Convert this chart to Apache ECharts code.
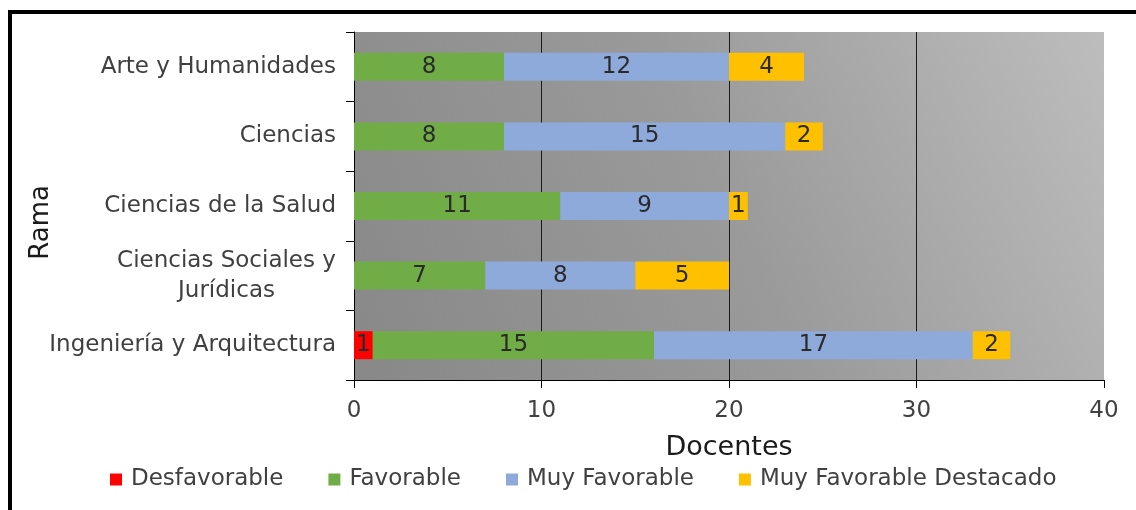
<!DOCTYPE html>
<html><head><meta charset="utf-8">
<script src="https://cdn.jsdelivr.net/npm/echarts@6/dist/echarts.min.js"></script>
<style>html,body{margin:0;padding:0;background:#fff}#c{width:1136px;height:510px}</style>
</head><body><div id="c"></div>
<script>
const categories = ['Ingeniería y Arquitectura', 'Ciencias Sociales y\nJurídicas', 'Ciencias de la Salud', 'Ciencias', 'Arte y Humanidades'];
const seriesNames = ['Desfavorable', 'Favorable', 'Muy Favorable', 'Muy Favorable Destacado'];
const desfavorable = [1, 0, 0, 0, 0];
const favorable = [15, 7, 11, 8, 8];
const muyFavorable = [17, 8, 9, 15, 12];
const muyFavorableDestacado = [2, 5, 1, 2, 4];
const xTicks = [0, 10, 20, 30, 40];
const colors = ['#ff0000', '#70ad47', '#8eaadb', '#ffc000'];
const FONT = 'DejaVu Sans';
const values = [desfavorable, favorable, muyFavorable, muyFavorableDestacado];

// measure widths so multi-line category labels can be centred as a block
const mctx = document.createElement('canvas').getContext('2d');
mctx.font = '23px "DejaVu Sans"';
function catFormatter(v) {
  if (v.indexOf('\n') < 0) return v;
  const lines = v.split('\n');
  return lines.map(s => '{c|' + s + '}').join('\n');
}
let maxMulti = 0;
categories.forEach(c => { if (c.indexOf('\n') >= 0) c.split('\n').forEach(s => { maxMulti = Math.max(maxMulti, mctx.measureText(s).width); }); });

const chart = echarts.init(document.getElementById('c'), null, {renderer: 'canvas'});
chart.setOption({
  animation: false,
  textStyle: {fontFamily: FONT},
  grid: {left: 354, right: 32, top: 32, bottom: 130, show: true, borderWidth: 0,
    backgroundColor: new echarts.graphic.LinearGradient(0, 1, 1, 0, [
      {offset: 0, color: '#888888'}, {offset: 0.5, color: '#9a9a9a'}, {offset: 1, color: '#bdbdbd'}])},
  legend: {top: 463, left: 105, itemWidth: 12, itemHeight: 12, itemGap: 45, icon: 'rect',
    textStyle: {fontFamily: FONT, fontSize: 23, color: '#404040', padding: [0, 0, 0, 4]}, data: seriesNames},
  xAxis: {type: 'value', min: xTicks[0], max: xTicks[xTicks.length - 1], interval: 10,
    name: 'Docentes', nameLocation: 'middle', nameGap: 54,
    nameTextStyle: {fontFamily: FONT, fontSize: 27, color: '#1a1a1a'},
    axisLine: {show: true, lineStyle: {color: '#000', width: 1}},
    axisTick: {show: true, length: 8, lineStyle: {color: '#000'}},
    axisLabel: {fontFamily: FONT, fontSize: 23, color: '#404040', margin: 20},
    splitLine: {show: true, lineStyle: {color: ['rgba(0,0,0,0)', '#1a1a1a', '#1a1a1a', '#1a1a1a', 'rgba(0,0,0,0)'], width: 1}}},
  yAxis: {type: 'category', data: categories,
    axisLine: {show: true, lineStyle: {color: '#000', width: 1}},
    axisTick: {show: true, length: 8, alignWithLabel: false, lineStyle: {color: '#000'}},
    axisLabel: {fontFamily: FONT, fontSize: 23, color: '#404040', margin: 18, lineHeight: 30, align: 'right',
      formatter: catFormatter,
      rich: {c: {fontFamily: FONT, fontSize: 23, color: '#404040', lineHeight: 30, align: 'center', width: Math.ceil(maxMulti)}}}},
  graphic: [
    {type: 'rect', shape: {x: 8, y: 10, width: 1128, height: 4}, style: {fill: '#000'}},
    {type: 'rect', shape: {x: 8, y: 10, width: 4, height: 500}, style: {fill: '#000'}},
    {type: 'text', left: 28, top: 185, rotation: Math.PI / 2,
      style: {text: 'Rama', fontFamily: FONT, fontSize: 26, fill: '#1a1a1a'}}
  ],
  series: seriesNames.map((n, i) => ({
    name: n, type: 'bar', stack: 'total', barWidth: 28,
    itemStyle: {color: colors[i]},
    label: {show: true, position: 'inside', fontFamily: FONT, fontSize: 23, color: '#2a2a2a',
      formatter: p => p.value ? String(p.value) : ''},
    data: values[i]
  }))
});
</script></body></html>
